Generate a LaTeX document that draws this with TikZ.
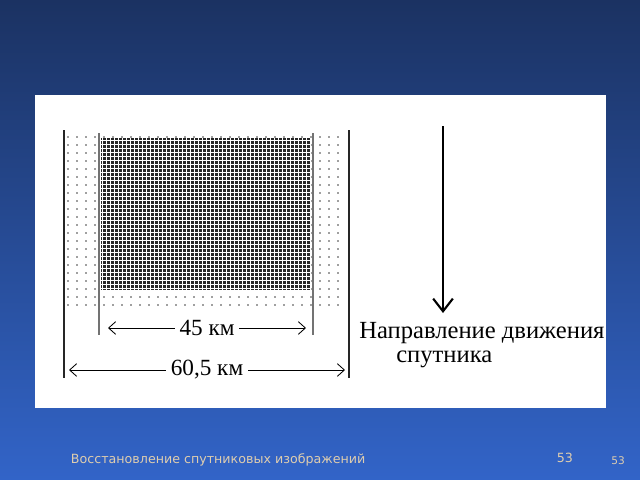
\documentclass[tikz,border=0pt]{standalone}
\usepackage{fontspec}
\setmainfont{Liberation Serif}
\newfontfamily\footfont{DejaVu Sans}
\usetikzlibrary{arrows.meta}
\definecolor{slidetop}{RGB}{27,50,98}
\definecolor{slidebot}{RGB}{50,100,200}
\definecolor{foottext}{RGB}{222,205,175}
\begin{document}
\begin{tikzpicture}[x=0.025cm,y=-0.025cm,
  >={Straight Barb[length=5pt,width=9pt]},
  border/.style={line width=0.8pt,black!85},
  inner/.style={line width=0.8pt,black!55},
  dim/.style={<->,line width=0.6pt},
  lbl/.style={fill=white,inner sep=3.5pt,font=\fontsize{16.5}{18}\selectfont},
  foot/.style={text=foottext,font=\footfont\fontsize{9}{11}\selectfont}]

% slide background
\shade[top color=slidetop,bottom color=slidebot] (0,0) rectangle (640,480);
\useasboundingbox (0,0) rectangle (640,480);
\fill[white] (35,95) rectangle (606,408);

% light dotted strip
\foreach \i in {0,...,30}
  \foreach \j in {0,...,21}
    \fill[black!75] ({68+9*\i},{137+8*\j}) circle (0.55pt);

% dense band
\fill[black!85] (101,138) rectangle (311,290);
\foreach \k in {0,...,37}
  \draw[white,line width=0.55pt] (101,{140+4*\k}) -- (311,{140+4*\k});
\foreach \k in {0,...,52}
  \draw[white,line width=0.4pt] ({102+4*\k},138) -- ({102+4*\k},290);

% edges of the strips
\coordinate (ltop) at (64,130);
\coordinate (lbot) at (64,378);
\coordinate (rtop) at (349,130);
\coordinate (rbot) at (349,378);
\coordinate (iltop) at (99,133);
\coordinate (ilbot) at (99,335);
\coordinate (irtop) at (313,133);
\coordinate (irbot) at (313,335);
\draw[border] (ltop) -- (lbot);
\draw[border] (rtop) -- (rbot);
\draw[inner] (iltop) -- (ilbot);
\draw[inner] (irtop) -- (irbot);

% widths
\coordinate (a45) at (108,328);
\coordinate (b45) at (306,328);
\coordinate (a60) at (69,370);
\coordinate (b60) at (345,370);
\draw[dim] (a45) -- node[lbl] (w45) {45 км} (b45);
\draw[dim] (a60) -- node[lbl] (w60) {60,5 км} (b60);

% direction of motion
\coordinate (mtop) at (443,126);
\coordinate (mtip) at (443,313);
\draw[->,line width=1.5pt,>={Straight Barb[length=9pt,width=14pt]}] (mtop) -- (mtip);
\node[anchor=west,inner sep=0pt,font=\fontsize{17.5}{19}\selectfont] (dir) at (359,333) {Направление движения};
\node[anchor=west,inner sep=0pt,font=\fontsize{17.5}{19}\selectfont] (sat) at (396,359) {спутника};

% footer
\node[foot,anchor=west] (title) at (66,460) {Восстановление спутниковых изображений};
\node[foot] (pg) at (565,458) {53};
\node[foot,font=\footfont\fontsize{7.5}{9}\selectfont] (num) at (618,461) {53};
\end{tikzpicture}
\end{document}
